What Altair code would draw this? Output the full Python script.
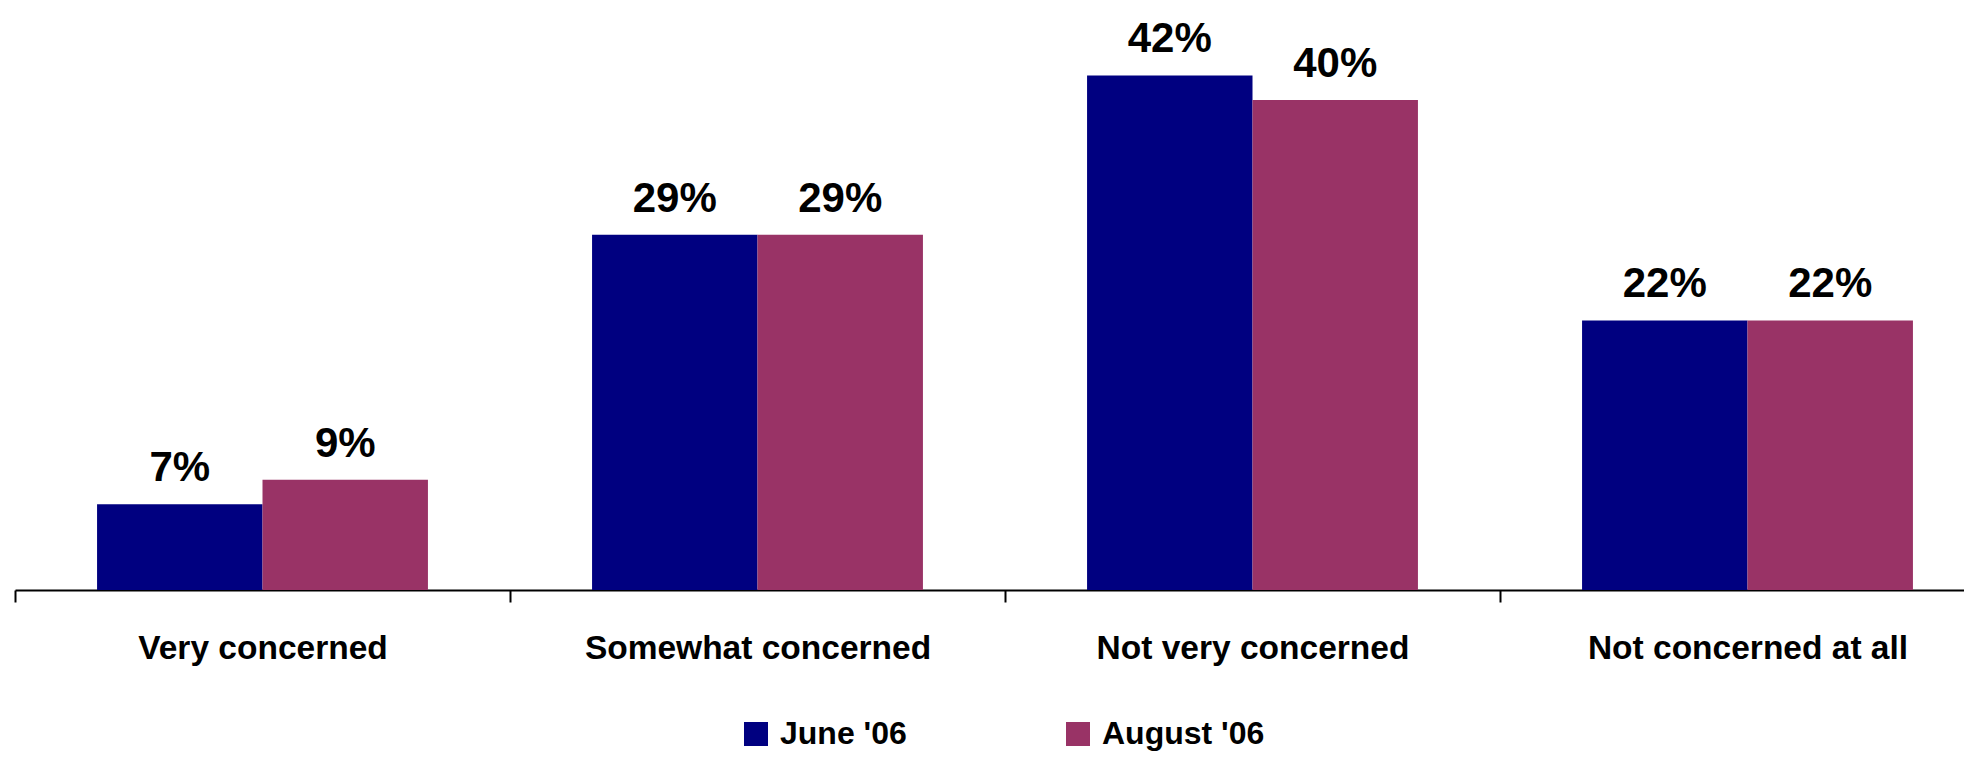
import altair as alt
import pandas as pd

categories = ["Very concerned", "Somewhat concerned", "Not very concerned", "Not concerned at all"]
june = [7, 29, 42, 22]
august = [9, 29, 40, 22]
series = ["June '06", "August '06"]
colors = ["#000080", "#993366"]

rows = []
for c, j, a in zip(categories, june, august):
    rows.append({"category": c, "series": series[0], "value": j})
    rows.append({"category": c, "series": series[1], "value": a})
df = pd.DataFrame(rows)
df["label"] = df["value"].astype(str) + "%"

font = "Liberation Sans"

x = alt.X(
    "category:N", sort=categories, title=None,
    scale=alt.Scale(range=[0, 1980], paddingInner=0, paddingOuter=0),
    axis=alt.Axis(labelAngle=0, labelFont=font, labelFontSize=33.5, labelFontWeight="bold",
                  labelColor="black", domainColor="black", domainWidth=2,
                  tickColor="black", tickWidth=2, tickSize=12, tickBand="extent",
                  labelPadding=30, grid=False, labelLimit=600),
)
xo = alt.XOffset("series:N", sort=series, scale=alt.Scale(paddingOuter=0.496, paddingInner=0))
y = alt.Y("value:Q", scale=alt.Scale(domain=[0, 47.1], nice=False), axis=None)
color = alt.Color(
    "series:N", sort=series,
    scale=alt.Scale(domain=series, range=colors),
    legend=alt.Legend(title=None, orient="none", direction="horizontal",
                      legendX=725, legendY=705, symbolType="square", symbolSize=576,
                      symbolStrokeWidth=0, symbolOpacity=1, labelFont=font, labelFontSize=32,
                      labelFontWeight="bold", labelColor="black", columnPadding=155,
                      labelOffset=8, labelLimit=400),
)

base = alt.Chart(df)
bars = base.mark_bar().encode(x=x, xOffset=xo, y=y, color=color)
labels = base.mark_text(baseline="alphabetic", dy=-23, fontSize=42, fontWeight="bold",
                        font=font, color="black").encode(x=x, xOffset=xo, y=y, text="label:N")

chart = (bars + labels).properties(
    width=1949, height=577,
    autosize=alt.AutoSizeParams(type="none"),
    padding={"left": 7, "top": 5, "right": 0, "bottom": 161},
).configure_view(stroke=None)

chart.save("out.html", embed_options={"renderer": "svg", "actions": False})
